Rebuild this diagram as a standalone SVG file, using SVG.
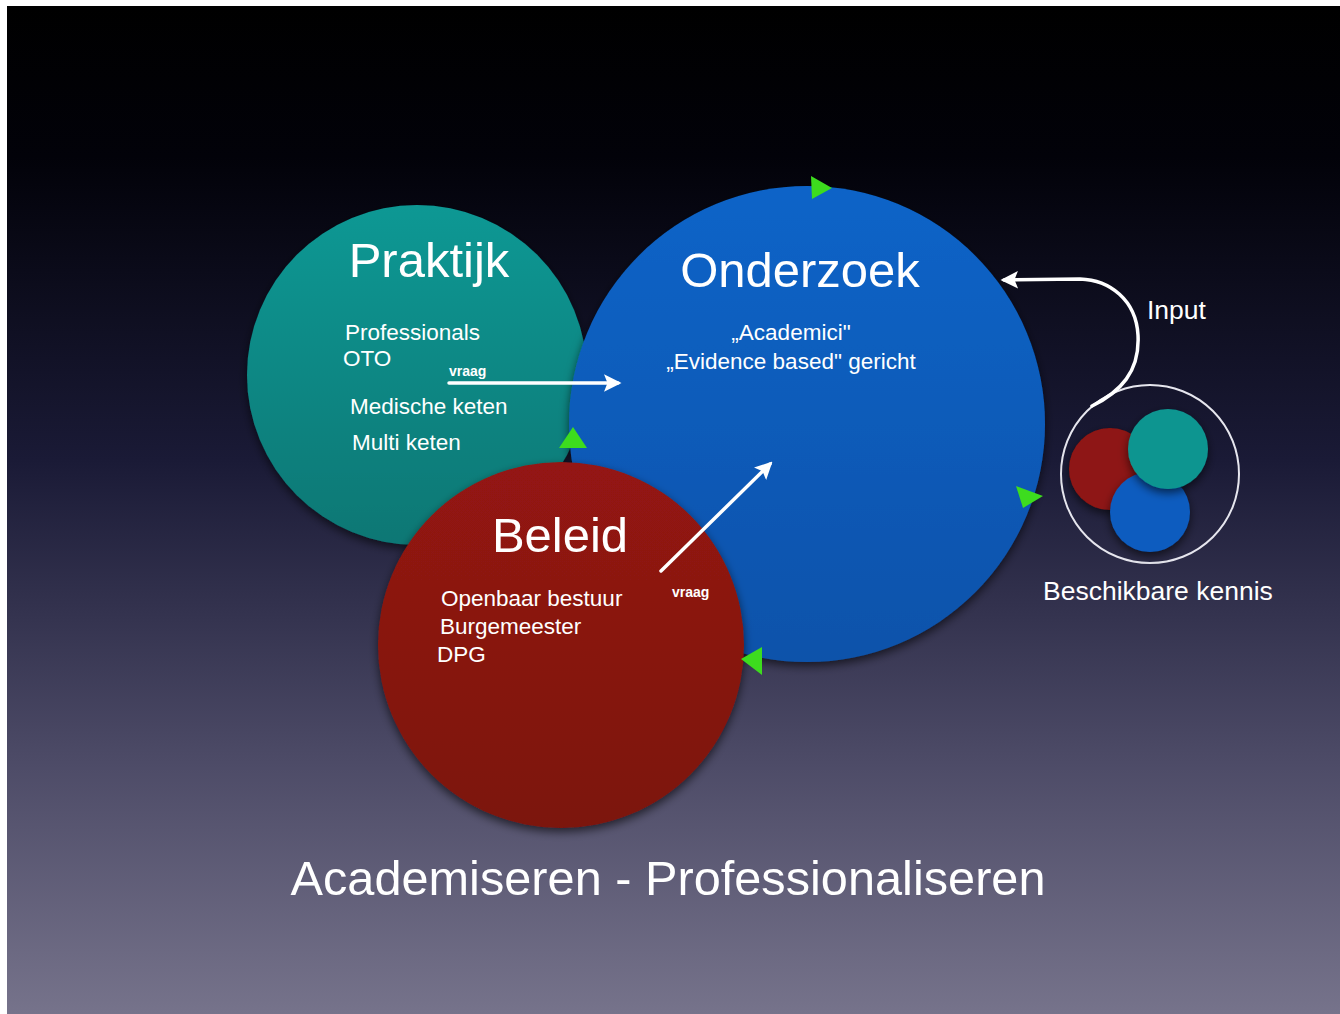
<svg xmlns="http://www.w3.org/2000/svg" width="1340" height="1014" viewBox="0 0 1340 1014">
<defs>
<linearGradient id="bg" x1="0" y1="0" x2="0" y2="1">
<stop offset="0" stop-color="#000000"/>
<stop offset="0.15" stop-color="#020209"/>
<stop offset="0.45" stop-color="#1a1a36"/>
<stop offset="0.75" stop-color="#4d4b67"/>
<stop offset="1" stop-color="#76738b"/>
</linearGradient>
<linearGradient id="teal" x1="0" y1="0" x2="0" y2="1">
<stop offset="0" stop-color="#0c9894"/>
<stop offset="1" stop-color="#0a7774"/>
</linearGradient>
<linearGradient id="blue" x1="0" y1="0" x2="0" y2="1">
<stop offset="0" stop-color="#0a64c8"/>
<stop offset="1" stop-color="#0a52aa"/>
</linearGradient>
<linearGradient id="red" x1="0" y1="0" x2="0" y2="1">
<stop offset="0" stop-color="#941812"/>
<stop offset="1" stop-color="#7c130f"/>
</linearGradient>
<filter id="sh" x="-20%" y="-20%" width="140%" height="140%">
<feDropShadow dx="0" dy="4" stdDeviation="5" flood-color="#000" flood-opacity="0.6"/>
</filter>
<marker id="ah" viewBox="0 0 10 10" refX="8" refY="5" markerWidth="5" markerHeight="5" orient="auto" markerUnits="strokeWidth">
<path d="M0,0 L10,5 L0,10 L2,5 Z" fill="#ffffff"/>
</marker>
<style>
text{font-family:"Liberation Sans",Arial,sans-serif;fill:#ffffff}
.t{font-size:49px}
.s{font-size:22.5px}
.v{font-size:14px;font-weight:bold}
.m{font-size:26.5px}
.g{fill:#3ddc1e}
.ar{fill:none;stroke:#ffffff;stroke-width:3.5;stroke-linecap:round;marker-end:url(#ah)}
</style>
</defs>
<rect x="0" y="0" width="1340" height="1014" fill="#ffffff"/>
<rect x="7" y="6" width="1333" height="1008" fill="url(#bg)"/>

<g id="praktijk">
<circle cx="417" cy="375" r="170" fill="url(#teal)" filter="url(#sh)"/>
</g>
<g id="onderzoek">
<circle cx="807" cy="424" r="238" fill="url(#blue)" filter="url(#sh)"/>
</g>
<g id="beleid">
<circle cx="561" cy="645" r="183" fill="url(#red)" filter="url(#sh)"/>
</g>

<g id="praktijk-text">
<text class="t" x="429" y="277" text-anchor="middle">Praktijk</text>
<text class="s" x="345" y="340">Professionals</text>
<text class="s" x="343" y="366">OTO</text>
<text class="s" x="350" y="414">Medische keten</text>
<text class="s" x="352" y="450">Multi keten</text>
</g>
<g id="onderzoek-text">
<text class="t" x="800" y="287" text-anchor="middle">Onderzoek</text>
<text class="s" x="791" y="340" text-anchor="middle">„Academici"</text>
<text class="s" x="791" y="369" text-anchor="middle">„Evidence based" gericht</text>
</g>
<g id="beleid-text">
<text class="t" x="560" y="552" text-anchor="middle">Beleid</text>
<text class="s" x="441" y="606">Openbaar bestuur</text>
<text class="s" x="440" y="634">Burgemeester</text>
<text class="s" x="437" y="662">DPG</text>
</g>

<g id="kennis">
<circle cx="1150" cy="474" r="89" fill="none" stroke="#e6e6ee" stroke-width="2"/>
<circle cx="1110" cy="469" r="41" fill="#8e1512" filter="url(#sh)"/>
<circle cx="1150" cy="512" r="40" fill="#0a5cbf" filter="url(#sh)"/>
<circle cx="1168" cy="449" r="40" fill="#0c9590" filter="url(#sh)"/>
<text class="m" x="1043" y="600">Beschikbare kennis</text>
</g>

<g id="connectors">
<path class="ar" d="M449,383 L618,383"/>
<text class="v" x="449" y="376">vraag</text>
<path class="ar" d="M661,571 L770,464"/>
<text class="v" x="672" y="597">vraag</text>
<path class="ar" d="M1092,406 C1120,392 1140,372 1138,335 C1136,300 1110,280 1080,279 L1004,280"/>
<text class="m" x="1147" y="319">Input</text>
<polygon class="g" points="811,176 832,188 812,199"/>
<polygon class="g" points="741,659 762,647 762,675"/>
<polygon class="g" points="1016,486 1043,496 1023,508"/>
<polygon class="g" points="559,448 573,427 587,448"/>
</g>

<text class="t" x="668" y="895" text-anchor="middle" textLength="755" lengthAdjust="spacingAndGlyphs">Academiseren - Professionaliseren</text>
</svg>
